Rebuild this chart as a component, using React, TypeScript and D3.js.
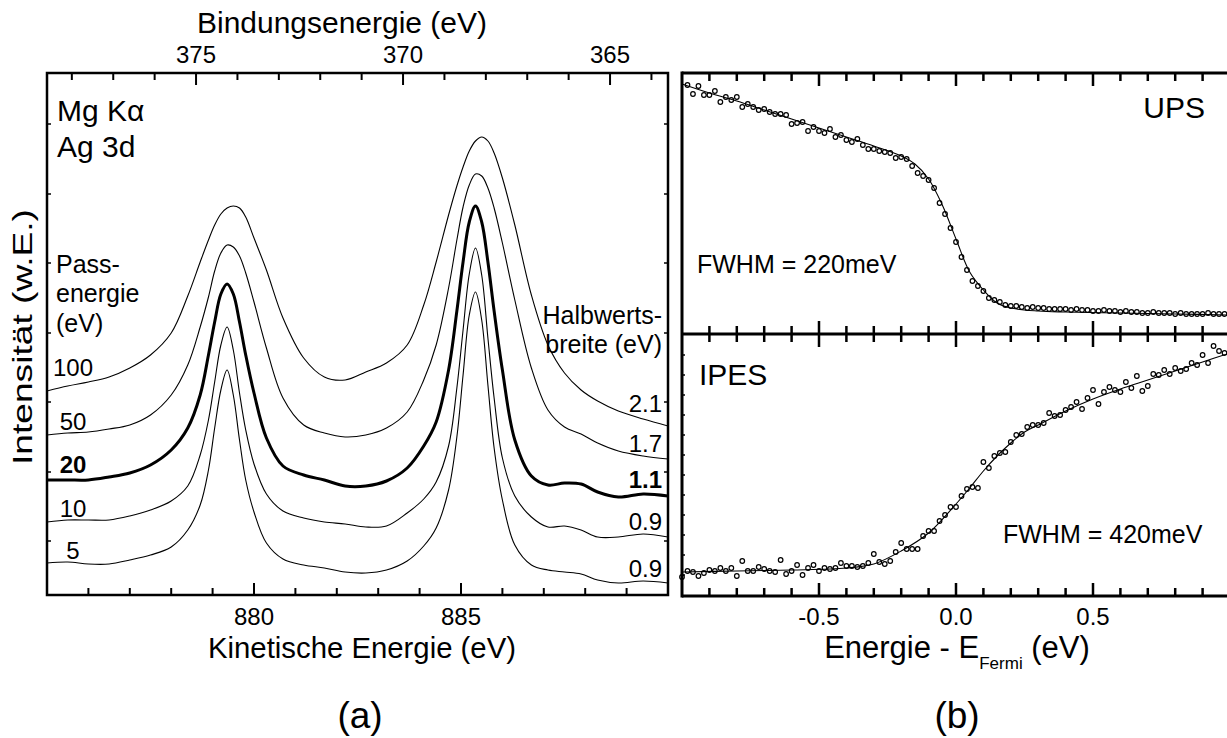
import React from 'react';
import * as d3 from 'd3';

// ---------- Panel (a): Ag 3d XPS spectra ----------
const photonEnergy = 1253.6; // Mg K-alpha (eV)
const keGrid = [875.0, 875.5, 876.0, 876.5, 877.0, 877.5, 878.0, 878.4, 878.7, 878.9, 879.05, 879.2, 879.35, 879.5, 879.65, 879.8, 880.0, 880.3, 880.7, 881.2, 881.7, 882.2, 882.7, 883.2, 883.7, 884.1, 884.4, 884.7, 884.9, 885.05, 885.2, 885.35, 885.5, 885.65, 885.8, 886.0, 886.3, 886.7, 887.1, 887.5, 887.9, 888.3, 888.8, 889.4, 890.0];
const pass100 = [2.04, 2.09, 2.13, 2.18, 2.27, 2.40, 2.62, 2.99, 3.33, 3.55, 3.70, 3.81, 3.87, 3.89, 3.87, 3.78, 3.57, 3.25, 2.77, 2.37, 2.18, 2.15, 2.23, 2.32, 2.50, 2.90, 3.33, 3.80, 4.09, 4.28, 4.44, 4.54, 4.58, 4.54, 4.42, 4.17, 3.70, 3.00, 2.50, 2.22, 2.05, 1.94, 1.84, 1.76, 1.69];
const pass50 = [1.60, 1.62, 1.63, 1.66, 1.70, 1.80, 2.00, 2.30, 2.68, 2.98, 3.24, 3.42, 3.50, 3.48, 3.39, 3.22, 2.93, 2.47, 1.97, 1.70, 1.62, 1.58, 1.60, 1.67, 1.83, 2.15, 2.50, 3.07, 3.55, 3.88, 4.10, 4.21, 4.19, 4.07, 3.87, 3.52, 2.95, 2.27, 1.85, 1.68, 1.61, 1.52, 1.44, 1.39, 1.36];
const pass20 = [1.15, 1.15, 1.15, 1.18, 1.22, 1.30, 1.45, 1.67, 2.00, 2.40, 2.73, 3.01, 3.11, 3.01, 2.73, 2.40, 2.02, 1.57, 1.29, 1.20, 1.15, 1.09, 1.09, 1.14, 1.27, 1.49, 1.73, 2.25, 2.84, 3.33, 3.73, 3.89, 3.73, 3.33, 2.84, 2.25, 1.55, 1.19, 1.10, 1.12, 1.11, 1.03, 0.98, 1.01, 0.99];
const pass10 = [0.73, 0.75, 0.75, 0.75, 0.79, 0.85, 0.94, 1.09, 1.40, 1.75, 2.13, 2.50, 2.68, 2.45, 2.02, 1.65, 1.31, 1.01, 0.84, 0.77, 0.73, 0.71, 0.68, 0.69, 0.82, 0.96, 1.13, 1.49, 2.07, 2.65, 3.21, 3.47, 3.20, 2.57, 1.97, 1.37, 0.99, 0.78, 0.68, 0.69, 0.65, 0.58, 0.58, 0.61, 0.58];
const pass5 = [0.32, 0.33, 0.31, 0.31, 0.35, 0.40, 0.48, 0.65, 0.90, 1.25, 1.67, 2.05, 2.25, 2.00, 1.55, 1.15, 0.83, 0.52, 0.36, 0.30, 0.27, 0.23, 0.22, 0.25, 0.34, 0.49, 0.67, 1.05, 1.58, 2.20, 2.80, 3.03, 2.75, 2.10, 1.47, 0.95, 0.50, 0.30, 0.25, 0.23, 0.21, 0.15, 0.12, 0.14, 0.12];
const passEnergies = ['100', '50', '20', '10', '5'];
const fwhmLabels = ['2.1', '1.7', '1.1', '0.9', '0.9'];
const keTicks = [876, 877, 878, 879, 880, 881, 882, 883, 884, 885, 886, 887, 888, 889];
const keLabels = [880, 885];
const beTicks = [364, 365, 366, 367, 368, 369, 370, 371, 372, 373, 374, 375, 376, 377, 378];
const beLabels = [375, 370, 365];
const intensityTicks = [0.54, 1.23, 1.93, 2.62, 3.32, 4.01, 4.71];

// ---------- Panel (b): UPS / IPES Fermi edges ----------
const energyGrid = [-1.00, -0.98, -0.96, -0.94, -0.92, -0.90, -0.88, -0.86, -0.84, -0.82, -0.80, -0.78, -0.76, -0.74, -0.72, -0.70, -0.68, -0.66, -0.64, -0.62, -0.60, -0.58, -0.56, -0.54, -0.52, -0.50, -0.48, -0.46, -0.44, -0.42, -0.40, -0.38, -0.36, -0.34, -0.32, -0.30, -0.28, -0.26, -0.24, -0.22, -0.20, -0.18, -0.16, -0.14, -0.12, -0.10, -0.08, -0.06, -0.04, -0.02, 0.00, 0.02, 0.04, 0.06, 0.08, 0.10, 0.12, 0.14, 0.16, 0.18, 0.20, 0.22, 0.24, 0.26, 0.28, 0.30, 0.32, 0.34, 0.36, 0.38, 0.40, 0.42, 0.44, 0.46, 0.48, 0.50, 0.52, 0.54, 0.56, 0.58, 0.60, 0.62, 0.64, 0.66, 0.68, 0.70, 0.72, 0.74, 0.76, 0.78, 0.80, 0.82, 0.84, 0.86, 0.88, 0.90, 0.92, 0.94, 0.96, 0.98];
const upsCounts = [2.49, 2.40, 2.48, 2.39, 2.39, 2.43, 2.32, 2.37, 2.34, 2.37,
  2.27, 2.30, 2.27, 2.24, 2.25, 2.22, 2.20, 2.20, 2.19, 2.10,
  2.11, 2.12, 2.03, 2.07, 2.03, 2.01, 2.05, 1.97, 1.99, 1.94,
  1.92, 1.95, 1.89, 1.85, 1.85, 1.83, 1.82, 1.81, 1.76, 1.77,
  1.75, 1.68, 1.61, 1.58, 1.54, 1.46, 1.31, 1.20, 1.06, 0.92,
  0.77, 0.64, 0.53, 0.48, 0.43, 0.36, 0.34, 0.32, 0.29, 0.28,
  0.28, 0.27, 0.26, 0.27, 0.26, 0.26, 0.25, 0.25, 0.25, 0.25,
  0.24, 0.25, 0.24, 0.24, 0.23, 0.23, 0.24, 0.23, 0.23, 0.22,
  0.23, 0.22, 0.22, 0.21, 0.21, 0.22, 0.21, 0.21, 0.21, 0.20,
  0.21, 0.20, 0.20, 0.20, 0.20, 0.21, 0.20, 0.20, 0.20];
const ipesCounts = [0.19, 0.25, 0.24, 0.20, 0.23, 0.26, 0.25, 0.28, 0.25, 0.28,
  0.20, 0.35, 0.25, 0.25, 0.29, 0.27, 0.25, 0.24, 0.36, 0.22,
  0.25, 0.31, 0.21, 0.28, 0.31, 0.25, 0.28, 0.27, 0.28, 0.33,
  0.30, 0.30, 0.29, 0.30, 0.33, 0.42, 0.34, 0.32, 0.35, 0.44,
  0.53, 0.47, 0.47, 0.47, 0.60, 0.65, 0.65, 0.75, 0.81, 0.89,
  0.89, 1.00, 1.07, 1.09, 1.08, 1.34, 1.28, 1.40, 1.43, 1.44,
  1.54, 1.61, 1.62, 1.69, 1.71, 1.71, 1.73, 1.83, 1.80, 1.81,
  1.86, 1.89, 1.94, 1.87, 1.98, 2.06, 1.92, 2.04, 2.09, 2.06,
  2.04, 2.14, 2.08, 2.20, 2.05, 2.10, 2.22, 2.21, 2.26, 2.22,
  2.28, 2.25, 2.27, 2.33, 2.31, 2.41, 2.33, 2.50, 2.45, 2.43];
const upsFitE = [-1.0, -0.9, -0.8, -0.7, -0.6, -0.5, -0.4, -0.3, -0.2, -0.15, -0.1, -0.05, 0.0, 0.05, 0.1, 0.15, 0.2, 0.3, 0.4, 0.6, 0.8, 1.0];
const upsFit = [2.50, 2.41, 2.33, 2.24, 2.15, 2.06, 1.97, 1.88, 1.78, 1.70, 1.55, 1.29, 0.95, 0.62, 0.44, 0.31, 0.26, 0.23, 0.22, 0.21, 0.20, 0.19];
const ipesFitE = [-1.0, -0.8, -0.6, -0.4, -0.3, -0.2, -0.1, 0.0, 0.05, 0.1, 0.15, 0.2, 0.25, 0.3, 0.4, 0.5, 0.6, 0.7, 0.8, 0.9, 1.0];
const ipesFit = [0.24, 0.25, 0.26, 0.28, 0.32, 0.45, 0.63, 0.92, 1.08, 1.25, 1.40, 1.53, 1.64, 1.71, 1.85, 1.97, 2.07, 2.16, 2.25, 2.34, 2.43];
const efTicks = [-0.9, -0.8, -0.7, -0.6, -0.5, -0.4, -0.3, -0.2, -0.1, 0.0, 0.1, 0.2, 0.3, 0.4, 0.5, 0.6, 0.7, 0.8, 0.9];
const efLabels = [-0.5, 0.0, 0.5];
const ipesSideTicks = [0.21, 0.41, 0.61, 0.81, 1.01, 1.21, 1.41, 1.61, 1.81, 2.01, 2.21, 2.41];

const FONT = '"Liberation Sans", Arial, Helvetica, sans-serif';

export default function App() {
  // panel (a) geometry
  const aL = 47, aR = 668, aT = 73, aB = 595;
  const xKE = d3.scaleLinear().domain([875, 890]).range([aL, aR]);
  const xBE = d3.scaleLinear().domain([photonEnergy - 875, photonEnergy - 890]).range([aL, aR]);
  const yInt = d3.scaleLinear().domain([0, 5.22]).range([aB, aT]);

  // panel (b) geometry
  const bL = 682, bR = 1230, bT = 73, bM = 334, bB = 596;
  const xE = d3.scaleLinear().domain([-1, 1]).range([bL, bR]);
  const yUPS = d3.scaleLinear().domain([0, 2.61]).range([bM, bT]);
  const yIPES = d3.scaleLinear().domain([0, 2.62]).range([bB, bM]);

  const spectra = [pass100, pass50, pass20, pass10, pass5];
  const specLine = d3.line<number>()
    .x((_, i) => xKE(keGrid[i]))
    .y((d) => yInt(d))
    .curve(d3.curveCatmullRom.alpha(0.5));

  const upsLine = d3.line<number>()
    .x((_, i) => xE(upsFitE[i]))
    .y((d) => yUPS(d))
    .curve(d3.curveCatmullRom.alpha(0.5));
  const ipesLine = d3.line<number>()
    .x((_, i) => xE(ipesFitE[i]))
    .y((d) => yIPES(d))
    .curve(d3.curveCatmullRom.alpha(0.5));

  const upsE = energyGrid.slice(1);
  const fmt = (v: number) => d3.format('.1f')(v).replace('\u2212', '-');

  return (
    <>
      <style>{`body{margin:0}`}</style>
      <svg width={1227} height={738} style={{ position: 'absolute', left: 0, top: 0, background: '#fff' }}
        fontFamily={FONT}>
        <rect x={0} y={0} width={1227} height={738} fill="#fff" />

        {/* ===== Panel (a) ===== */}
        <defs>
          <clipPath id="clipA"><rect x={aL} y={aT} width={aR - aL} height={aB - aT} /></clipPath>
        </defs>
        <g clipPath="url(#clipA)" fill="none" stroke="#000">
          {spectra.map((s, i) => (
            <path key={i} d={specLine(s) || ''} strokeWidth={i === 2 ? 3 : 1.1} strokeLinejoin="round" />
          ))}
        </g>
        <g stroke="#000" strokeWidth={2}>
          {beTicks.map((v) => (
            <line key={'bt' + v} x1={xBE(v)} x2={xBE(v)} y1={aT} y2={aT + (v % 5 === 0 ? 12 : 7)} />
          ))}
          {keTicks.map((v) => (
            <line key={'kt' + v} x1={xKE(v)} x2={xKE(v)} y1={aB} y2={aB - (v % 5 === 0 ? 12 : 7)} />
          ))}
          {intensityTicks.map((v) => (
            <g key={'it' + v}>
              <line x1={aL} x2={aL + 4} y1={yInt(v)} y2={yInt(v)} strokeWidth={1.5} />
              <line x1={aR} x2={aR - 4} y1={yInt(v)} y2={yInt(v)} strokeWidth={1.5} />
            </g>
          ))}
        </g>
        <rect x={aL} y={aT} width={aR - aL} height={aB - aT} fill="none" stroke="#000" strokeWidth={2.5} />
        <g fontSize={24} textAnchor="middle" fill="#000">
          {beLabels.map((v) => (
            <text key={'bl' + v} x={xBE(v)} y={63}>{v}</text>
          ))}
          {keLabels.map((v) => (
            <text key={'kl' + v} x={xKE(v)} y={625}>{v}</text>
          ))}
        </g>
        <text x={342} y={33} fontSize={30} textAnchor="middle" textLength={290} lengthAdjust="spacingAndGlyphs">Bindungsenergie (eV)</text>
        <text x={362} y={658} fontSize={30} textAnchor="middle" textLength={308} lengthAdjust="spacingAndGlyphs">Kinetische Energie (eV)</text>
        <text transform="translate(32,337) rotate(-90)" fontSize={28} textAnchor="middle" textLength={256} lengthAdjust="spacingAndGlyphs">Intensität (w.E.)</text>

        <text x={57} y={121} fontSize={30}>Mg Kα</text>
        <text x={57} y={157} fontSize={30}>Ag 3d</text>
        <text x={56} y={273} fontSize={25}>Pass-</text>
        <text x={56} y={302} fontSize={25}>energie</text>
        <text x={56} y={332} fontSize={25}>(eV)</text>
        <text x={662} y={324} fontSize={25} textAnchor="end">Halbwerts-</text>
        <text x={662} y={353} fontSize={25} textAnchor="end">breite (eV)</text>
        {passEnergies.map((p, i) => (
          <text key={'pe' + p} x={73} y={[376, 430, 473, 517, 559][i]} fontSize={24} textAnchor="middle"
            fontWeight={i === 2 ? 'bold' : 'normal'}>{p}</text>
        ))}
        {fwhmLabels.map((p, i) => (
          <text key={'fw' + i} x={662} y={[412, 452, 488, 530, 577][i]} fontSize={24} textAnchor="end"
            fontWeight={i === 2 ? 'bold' : 'normal'}>{p}</text>
        ))}

        {/* ===== Panel (b) ===== */}
        <g fill="none" stroke="#000">
          <path d={upsLine(upsFit) || ''} strokeWidth={1.1} />
          <path d={ipesLine(ipesFit) || ''} strokeWidth={1.1} />
          {upsCounts.map((v, i) => (
            <circle key={'u' + i} cx={xE(upsE[i])} cy={yUPS(v)} r={2.3} strokeWidth={1.2} />
          ))}
          {ipesCounts.map((v, i) => (
            <circle key={'p' + i} cx={xE(energyGrid[i])} cy={yIPES(v)} r={2.3} strokeWidth={1.2} />
          ))}
        </g>
        <g stroke="#000" strokeWidth={2.5}>
          {efTicks.map((v) => {
            const major = Math.abs(Math.round(v * 10)) % 5 === 0;
            const L = major ? 13 : 8;
            return (
              <g key={'et' + v}>
                <line x1={xE(v)} x2={xE(v)} y1={bT} y2={bT + L} />
                <line x1={xE(v)} x2={xE(v)} y1={bM - L} y2={bM + L} />
                <line x1={xE(v)} x2={xE(v)} y1={bB} y2={bB - L} />
              </g>
            );
          })}
          {ipesSideTicks.map((v) => (
            <line key={'is' + v} x1={bL} x2={bL + 3} y1={yIPES(v)} y2={yIPES(v)} strokeWidth={1.5} />
          ))}
          <line x1={bL} x2={bR} y1={bT} y2={bT} strokeWidth={3} />
          <line x1={bL} x2={bR} y1={bM} y2={bM} strokeWidth={3} />
          <line x1={bL} x2={bR} y1={bB} y2={bB} strokeWidth={3} />
          <line x1={bL} x2={bL} y1={bT - 1.5} y2={bB + 1.5} strokeWidth={3} />
        </g>
        <g fontSize={24} textAnchor="middle">
          {efLabels.map((v) => (
            <text key={'el' + v} x={xE(v)} y={625}>{fmt(v)}</text>
          ))}
        </g>
        <text x={1205} y={118} fontSize={30} textAnchor="end">UPS</text>
        <text x={699} y={385} fontSize={30}>IPES</text>
        <text x={697} y={273} fontSize={25}>FWHM = 220meV</text>
        <text x={1003} y={543} fontSize={25}>FWHM = 420meV</text>
        <text x={957} y={658} fontSize={31} textAnchor="middle">Energie - E<tspan fontSize={17} dy={11}>Fermi</tspan><tspan dy={-11}> (eV)</tspan></text>

        <text x={360} y={728} fontSize={37} textAnchor="middle">(a)</text>
        <text x={957} y={728} fontSize={37} textAnchor="middle">(b)</text>
      </svg>
    </>
  );
}
